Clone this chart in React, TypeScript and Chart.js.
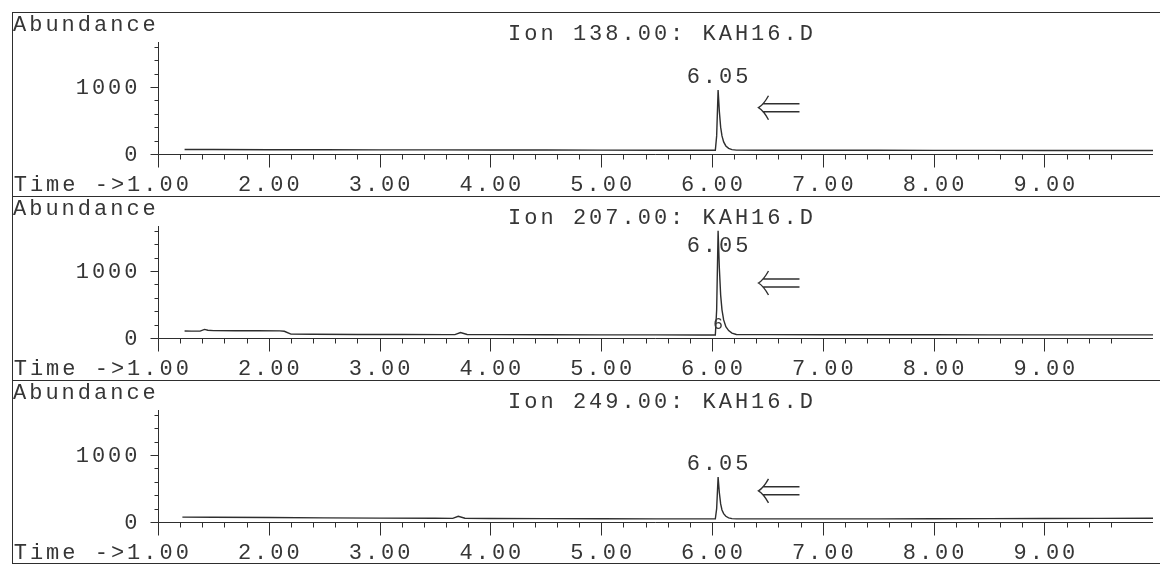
import React, { useEffect, useRef } from 'react';
import { Chart, registerables } from 'chart.js';

Chart.register(...registerables);

// ---------- data ----------
const ionTitles = ['Ion 138.00: KAH16.D', 'Ion 207.00: KAH16.D', 'Ion 249.00: KAH16.D'];

const ion138Time = [1.24, 1.5, 2.0, 2.5, 3.0, 3.5, 4.0, 4.5, 5.0, 5.5, 5.9, 6.03, 6.042, 6.055, 6.066, 6.078, 6.09, 6.105, 6.125, 6.15, 6.18, 6.22, 6.5, 7.0, 7.5, 8.0, 8.5, 9.0, 9.5, 9.98];
const ion138Abund = [68, 66, 64, 63, 62, 61, 60, 59, 58, 57, 56, 56, 270, 955, 640, 400, 270, 180, 120, 85, 66, 58, 56, 55, 55, 54, 54, 53, 53, 52];

const ion207Time = [1.24, 1.3, 1.38, 1.42, 1.45, 1.5, 1.7, 1.9, 2.1, 2.14, 2.2, 2.4, 2.8, 3.2, 3.6, 3.68, 3.73, 3.79, 4.0, 4.5, 5.0, 5.5, 5.9, 6.03, 6.042, 6.055, 6.066, 6.078, 6.09, 6.105, 6.125, 6.15, 6.18, 6.22, 6.5, 7.0, 7.5, 8.0, 8.5, 9.0, 9.5, 9.98];
const ion207Abund = [105, 103, 102, 128, 115, 110, 108, 107, 106, 100, 58, 55, 53, 52, 50, 50, 82, 52, 50, 48, 47, 46, 45, 45, 420, 1600, 1050, 640, 420, 270, 170, 110, 72, 52, 50, 49, 48, 48, 47, 47, 46, 46];

const ion249Time = [1.22, 1.5, 2.0, 2.5, 3.0, 3.5, 3.66, 3.71, 3.77, 4.0, 4.5, 5.0, 5.5, 5.9, 6.03, 6.042, 6.055, 6.066, 6.078, 6.09, 6.105, 6.125, 6.15, 6.18, 6.22, 6.5, 7.0, 7.5, 8.0, 8.5, 9.0, 9.5, 9.98];
const ion249Abund = [72, 70, 66, 62, 58, 55, 54, 85, 56, 52, 50, 48, 47, 46, 46, 200, 670, 440, 270, 180, 125, 85, 62, 50, 47, 46, 46, 47, 48, 50, 52, 54, 56];

const panelTimes = [ion138Time, ion207Time, ion249Time];
const panelAbund = [ion138Abund, ion207Abund, ion249Abund];

const peakLabels = ['6.05', '6.05', '6.05'];
const peakTimes = [6.05, 6.05, 6.05];
const peakApex = [955, 1600, 670];
const arrowLevels = [690, 820, 465];
const arrowTime = 6.6;
const integMarkText = ['', '6', ''];
const integMarkPos = [0, 190, 0];

const xLabelValues = [1, 2, 3, 4, 5, 6, 7, 8, 9];
const xTickLabels = ['1.00', '2.00', '3.00', '4.00', '5.00', '6.00', '7.00', '8.00', '9.00'];
const yLabelValues = [0, 1000];
const yTickLabels = ['0', '1000'];

const X_MIN = 1;
const X_MAX = 9.98;
const X_MINOR_COUNT = 43; // 1.0 .. 9.6 step 0.2
const Y_MAX = 1670;
const Y_MINOR_COUNT = 8; // 0 .. 1600 step 200

// ---------- style ----------
const FONT_FAMILY = '"Liberation Mono", "Courier New", monospace';
const INK = '#363636';
const LINE_INK = '#2e2e2e';
const FONT_SIZE = 22;
const SPACING = 3;
const W = 1148;
const H = 184;

function drawSpaced(ctx: CanvasRenderingContext2D, s: string, x: number, y: number, align: 'left' | 'center' | 'right', size = FONT_SIZE, spacing = SPACING) {
  ctx.font = `${size}px ${FONT_FAMILY}`;
  ctx.textAlign = 'left';
  ctx.textBaseline = 'alphabetic';
  const adv = ctx.measureText('0').width;
  const total = s.length * adv + (s.length - 1) * spacing;
  let left = x;
  if (align === 'center') left = x - total / 2;
  else if (align === 'right') left = x - total;
  for (let i = 0; i < s.length; i++) {
    ctx.fillText(s[i], left + i * (adv + spacing), y);
  }
  return { left, total };
}

function drawArrow(ctx: CanvasRenderingContext2D, cx: number, cy: number) {
  const tip = cx - 20;
  ctx.save();
  ctx.strokeStyle = '#303030';
  ctx.lineWidth = 1.4;
  ctx.beginPath();
  ctx.moveTo(tip + 4, cy - 4);
  ctx.lineTo(cx + 21, cy - 4);
  ctx.moveTo(tip + 4, cy + 4);
  ctx.lineTo(cx + 21, cy + 4);
  ctx.moveTo(tip + 10, cy - 12);
  ctx.quadraticCurveTo(tip + 5, cy - 3, tip, cy);
  ctx.quadraticCurveTo(tip + 5, cy + 3, tip + 10, cy + 12);
  ctx.stroke();
  ctx.restore();
}

function makeDecor(index: number) {
  return {
    id: 'chemDecor' + index,
    afterDatasetsDraw(chart: any) {
      const { ctx, chartArea, scales } = chart;
      const xs = scales.x;
      const ys = scales.y;
      const snap = (v: number) => Math.round(v) + 0.5;
      const x0 = snap(xs.getPixelForValue(X_MIN));
      const y0 = snap(ys.getPixelForValue(0));
      ctx.save();
      ctx.strokeStyle = LINE_INK;
      ctx.lineWidth = 1;
      // frame lines
      ctx.beginPath();
      ctx.moveTo(0, 0.5);
      ctx.lineTo(chart.width, 0.5);
      ctx.moveTo(0.5, 0);
      ctx.lineTo(0.5, chart.height);
      if (index === 2) {
        ctx.moveTo(0, chart.height - 0.5);
        ctx.lineTo(chart.width, chart.height - 0.5);
      }
      ctx.stroke();

      // axes
      ctx.beginPath();
      ctx.moveTo(x0, y0);
      ctx.lineTo(xs.getPixelForValue(X_MAX), y0);
      ctx.moveTo(x0, y0);
      ctx.lineTo(x0, ys.getPixelForValue(Y_MAX));
      // x ticks
      for (let k = 0; k <= X_MINOR_COUNT; k++) {
        const v = X_MIN + k * 0.2;
        const px = snap(xs.getPixelForValue(v));
        const len = k % 5 === 0 ? 13 : 5;
        ctx.moveTo(px, y0);
        ctx.lineTo(px, y0 + len);
      }
      // y ticks
      for (let k = 0; k <= Y_MINOR_COUNT; k++) {
        const v = k * 200;
        const py = snap(ys.getPixelForValue(v));
        const len = v === 0 || v === 1000 ? 8 : 4;
        ctx.moveTo(x0, py);
        ctx.lineTo(x0 - len, py);
      }
      ctx.stroke();

      ctx.fillStyle = INK;
      // y labels
      yLabelValues.forEach((v, i) => {
        const py = ys.getPixelForValue(v);
        drawSpaced(ctx, yTickLabels[i], x0 - 21, py + 7, 'right');
      });
      // x labels
      xLabelValues.forEach((v, i) => {
        const px = xs.getPixelForValue(v);
        const r = drawSpaced(ctx, xTickLabels[i], px, y0 + 36, 'center');
        if (i === 0) {
          drawSpaced(ctx, 'Time ->', r.left - SPACING, y0 + 36, 'right');
        }
      });
      // headings
      drawSpaced(ctx, 'Abundance', 1, 19, 'left');
      drawSpaced(ctx, ionTitles[index], (chartArea.left + chartArea.right) / 2 + 5, 28, 'center');

      // peak label
      const apexPx = ys.getPixelForValue(peakApex[index]);
      const labelY = Math.max(apexPx - 7, chartArea.top + 26);
      drawSpaced(ctx, peakLabels[index], xs.getPixelForValue(peakTimes[index]), labelY, 'center');

      // integration marker
      if (integMarkText[index]) {
        ctx.font = `16px ${FONT_FAMILY}`;
        ctx.textAlign = 'center';
        ctx.textBaseline = 'middle';
        ctx.fillText(integMarkText[index], xs.getPixelForValue(6.055), ys.getPixelForValue(integMarkPos[index]));
      }

      // arrow
      drawArrow(ctx, xs.getPixelForValue(arrowTime), ys.getPixelForValue(arrowLevels[index]));
      ctx.restore();
    },
  };
}

function Panel({ index }: { index: number }) {
  const ref = useRef<HTMLCanvasElement>(null);
  useEffect(() => {
    if (!ref.current) return;
    const times = panelTimes[index];
    const vals = panelAbund[index];
    const chart = new Chart(ref.current, {
      type: 'line',
      data: {
        datasets: [
          {
            data: times.map((t, i) => ({ x: t, y: vals[i] })),
            borderColor: LINE_INK,
            borderWidth: 1.4,
            pointRadius: 0,
            tension: 0,
            fill: false,
            clip: false as any,
          },
        ],
      },
      options: {
        animation: false,
        responsive: false,
        events: [],
        layout: { padding: { left: 146, right: 7, top: 30, bottom: 42 } },
        plugins: {
          legend: { display: false },
          tooltip: { enabled: false },
          title: { display: false },
        },
        scales: {
          x: { type: 'linear', min: X_MIN, max: X_MAX, display: false },
          y: { type: 'linear', min: 0, max: Y_MAX, display: false },
        },
      },
      plugins: [makeDecor(index)],
    } as any);
    return () => chart.destroy();
  }, [index]);
  return (
    <canvas
      ref={ref}
      width={W}
      height={H}
      style={{ position: 'absolute', left: 12, top: 12 + index * H, width: W, height: H, display: 'block' }}
    />
  );
}

export default function App() {
  return (
    <div style={{ position: 'fixed', left: 0, top: 0, width: 1160, height: 571, background: '#ffffff', overflow: 'hidden' }}>
      <Panel index={0} />
      <Panel index={1} />
      <Panel index={2} />
    </div>
  );
}
